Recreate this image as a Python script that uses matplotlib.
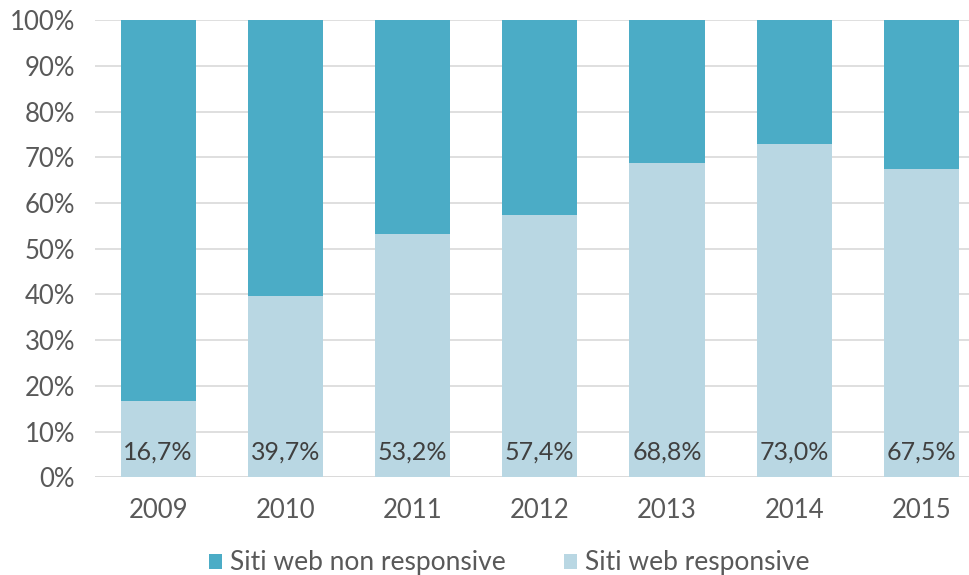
import matplotlib.pyplot as plt
import numpy as np

years = ['2009', '2010', '2011', '2012', '2013', '2014', '2015']
responsive = [16.7, 39.7, 53.2, 57.4, 68.8, 73.0, 67.5]
non_responsive = [100 - v for v in responsive]

dark = '#4BACC6'
light = '#B9D7E3'
text_col = '#595959'

plt.rcParams['font.family'] = ['Lato', 'DejaVu Sans']

fig = plt.figure(figsize=(9.7, 5.75), dpi=100)
ax = fig.add_axes([0.0975, 0.17, 0.918, 0.795])

x = np.arange(len(years))
ax.bar(x, responsive, width=0.59, color=light, zorder=2, label='Siti web responsive')
ax.bar(x, non_responsive, width=0.59, bottom=responsive, color=dark, zorder=2,
       label='Siti web non responsive')

for xi, v in zip(x, responsive):
    ax.text(xi, 5.5, f'{v:.1f}%'.replace('.', ','), ha='center', va='center',
            fontsize=18, color='#404040', zorder=3)

ax.set_xlim(-0.5, len(years) - 0.5)
ax.set_ylim(0, 100)
ax.set_yticks(range(0, 101, 10))
ax.set_yticklabels([f'{t}%' for t in range(0, 101, 10)])
ax.set_xticks(x)
ax.set_xticklabels(years)
ax.tick_params(axis='both', length=0, labelsize=18.5, labelcolor=text_col)
ax.tick_params(axis='x', pad=15)
ax.tick_params(axis='y', pad=14)
ax.yaxis.grid(True, color='#D9D9D9', linewidth=1.2, zorder=0)
for s in ax.spines.values():
    s.set_visible(False)
ax.axhline(0, color='#D9D9D9', linewidth=1.2, zorder=1)

h, l = ax.get_legend_handles_labels()
fig.legend(h[::-1], l[::-1], loc='lower center', bbox_to_anchor=(0.525, -0.042), ncol=2,
           frameon=False, fontsize=19, labelcolor=text_col, handlelength=0.5,
           handleheight=0.5, handletextpad=0.3, columnspacing=2.2)

fig.savefig('out.png', dpi=100)
